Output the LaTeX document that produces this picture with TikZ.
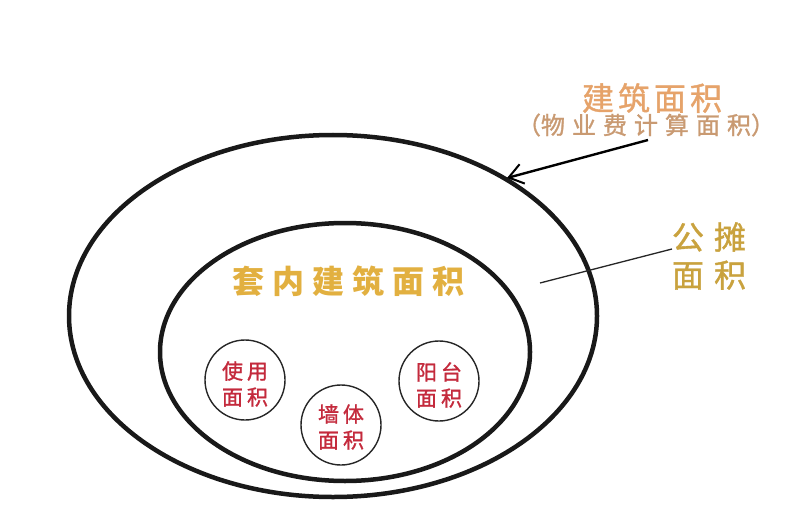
\documentclass[tikz,border=0pt]{standalone}
\usepackage{fontspec}
\newfontfamily\cjk{Noto Sans CJK SC}
\newfontfamily\cjkm[FakeBold=1.2]{Noto Sans CJK SC}
\usetikzlibrary{arrows.meta}
\definecolor{peach}{HTML}{E6A36A}
\definecolor{peachdark}{HTML}{C99A72}
\definecolor{olivegold}{HTML}{C9A23E}
\definecolor{gold}{HTML}{E2B040}
\definecolor{redtxt}{HTML}{C42A3C}
\tikzset{
  bigring/.style={draw=black!90, line width=4.5pt},
  smallring/.style={draw=black!85, line width=1.4pt, circle, minimum size=80pt, inner sep=0pt},
  lbl/.style={inner sep=0pt, align=center, font=\cjkm},
  redlbl/.style={lbl, text=redtxt, font=\cjkm\fontsize{21}{26}\selectfont},
}
\newcommand{\gapx}[1]{\hspace{#1pt}}
\begin{document}
\begin{tikzpicture}[x=1pt,y=-1pt]
\useasboundingbox[fill=white] (0,0) rectangle (810,505);
% ellipses
\draw[bigring] (333,316) ellipse [x radius=264, y radius=181];
\draw[bigring] (345,352) ellipse [x radius=185, y radius=129];
% small circles
\node[smallring] (use) at (245,380) {};
\node[smallring] (wall) at (341,425) {};
\node[smallring] (balc) at (439,381) {};
% circle texts
\node[redlbl] (usel) at (245,384) {使\gapx{4}用\\面\gapx{4}积};
\node[redlbl] (walll) at (341,427) {墙\gapx{4}体\\面\gapx{4}积};
\node[redlbl] (balcl) at (439,385) {阳\gapx{4}台\\面\gapx{4}积};
% inner label
\node[lbl, text=gold, font=\cjk\bfseries\fontsize{32}{36}\selectfont] (inner) at (348,281) {套\gapx{8}内\gapx{8}建\gapx{8}筑\gapx{8}面\gapx{8}积};
% outer labels
\node[lbl, text=peach, font=\cjkm\fontsize{32}{36}\selectfont] (build) at (652,98) {建\gapx{4}筑\gapx{4}面\gapx{4}积};
\node[lbl, text=peachdark, font=\cjkm\fontsize{24}{28}\selectfont] (fee) at (646,125) {（物\gapx{7}业\gapx{7}费\gapx{7}计\gapx{7}算\gapx{7}面\gapx{7}积）};
\node[lbl, text=olivegold, font=\cjkm\fontsize{32}{38}\selectfont] (share) at (709,256) {公\gapx{10}摊\\面\gapx{10}积};
% connectors
\coordinate (arrS) at (648,140);
\coordinate (arrE) at (507,178);
\draw[line width=2.4pt, -{Straight Barb[length=14pt, width=20pt, line width=2pt]}] (arrS) -- (arrE);
\coordinate (lnS) at (540,283);
\coordinate (lnE) at (672,249);
\draw[line width=1.3pt, black!85] (lnS) -- (lnE);
\end{tikzpicture}
\end{document}
